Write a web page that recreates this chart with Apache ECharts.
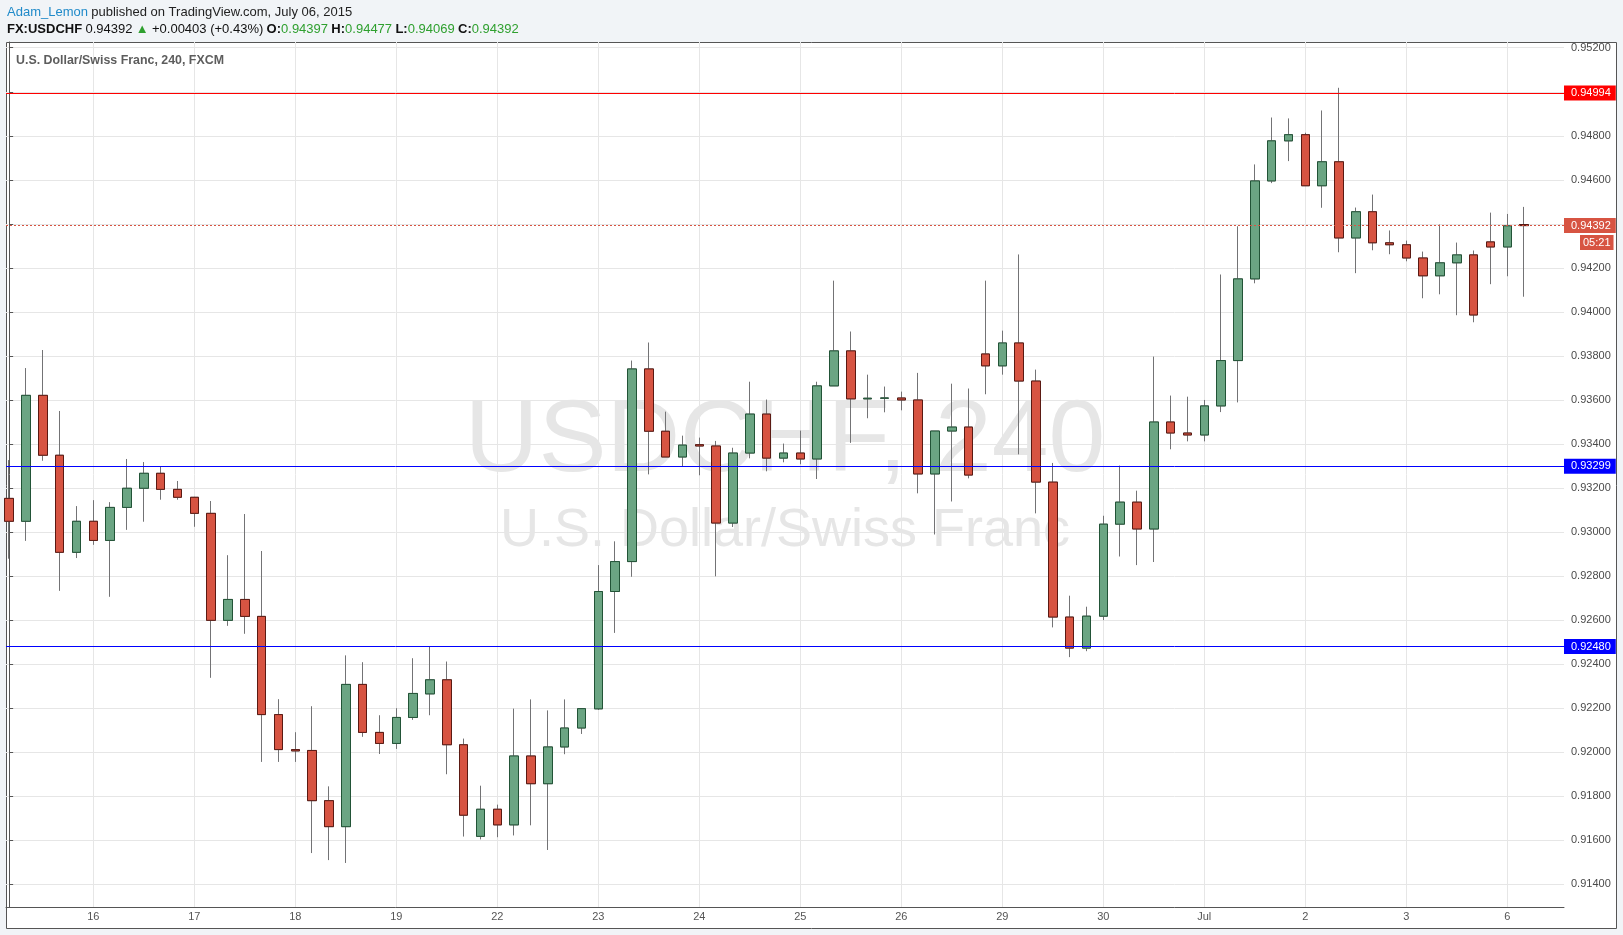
<!DOCTYPE html>
<html><head><meta charset="utf-8">
<script src="https://cdn.jsdelivr.net/npm/echarts@6/dist/echarts.min.js"></script>
<style>html,body{margin:0;padding:0;background:#f1f4f7;}#chart{width:1623px;height:935px;}</style>
</head><body><div id="chart"></div>
<script>
// ---- data (4H bars, FX:USDCHF) ----
const dayLabels = ['16','17','18','19','22','23','24','25','26','29','30','Jul','2','3','6'];
const dayStartBar = [5,11,17,23,29,35,41,47,53,59,65,71,77,83,89];
const opens = [0.93153,0.93049,0.93621,0.93349,0.92908,
 0.93049,0.92962,0.93112,0.93199,0.93267,0.93194,
 0.93158,0.93085,0.92599,0.92694,0.92617,0.92171,
 0.92012,0.92008,0.91780,0.91662,0.92308,0.92090,
 0.92040,0.92158,0.92265,0.92329,0.92034,0.91618,
 0.91741,0.91670,0.91983,0.91857,0.92024,0.92110,
 0.92197,0.92730,0.92866,0.93741,0.93458,0.93341,
 0.93397,0.93391,0.93041,0.93359,0.93536,0.93336,
 0.93359,0.93332,0.93664,0.93823,0.93605,0.93608,
 0.93609,0.93600,0.93264,0.93459,0.93477,0.93809,
 0.93755,0.93859,0.93686,0.93227,0.92614,0.92473,
 0.92618,0.93036,0.93136,0.93014,0.93500,0.93450,
 0.93441,0.93573,0.93779,0.94150,0.94595,0.94777,
 0.94805,0.94573,0.94682,0.94336,0.94455,0.94314,
 0.94305,0.94245,0.94164,0.94223,0.94259,0.94318,
 0.94295,0.94397];
const closes = [0.93049,0.93621,0.93349,0.92908,0.93049,
 0.92962,0.93112,0.93199,0.93267,0.93194,0.93158,
 0.93085,0.92599,0.92694,0.92617,0.92171,0.92012,
 0.92006,0.91780,0.91662,0.92308,0.92090,0.92040,
 0.92158,0.92267,0.92329,0.92034,0.91714,0.91741,
 0.91670,0.91983,0.91857,0.92024,0.92110,0.92198,
 0.92730,0.92866,0.93741,0.93458,0.93341,0.93395,
 0.93391,0.93041,0.93359,0.93536,0.93336,0.93359,
 0.93332,0.93664,0.93823,0.93605,0.93608,0.93609,
 0.93600,0.93264,0.93459,0.93477,0.93259,0.93755,
 0.93859,0.93686,0.93227,0.92614,0.92473,0.92618,
 0.93036,0.93136,0.93014,0.93500,0.93450,0.93441,
 0.93573,0.93779,0.94150,0.94595,0.94777,0.94805,
 0.94573,0.94682,0.94336,0.94455,0.94314,0.94305,
 0.94245,0.94164,0.94223,0.94259,0.93986,0.94295,
 0.94391,0.94392];
const lows = [0.92879,0.92960,0.93324,0.92733,0.92882,
 0.92942,0.92706,0.93010,0.93047,0.93147,0.93147,
 0.93024,0.92338,0.92574,0.92538,0.91956,0.91956,
 0.91956,0.91542,0.91510,0.91497,0.92070,0.91992,
 0.92015,0.92147,0.92168,0.91900,0.91617,0.91604,
 0.91614,0.91622,0.91668,0.91556,0.91991,0.92083,
 0.92192,0.92542,0.92797,0.93262,0.93341,0.93298,
 0.93258,0.92799,0.93023,0.93335,0.93276,0.93317,
 0.93308,0.93241,0.93664,0.93405,0.93517,0.93544,
 0.93553,0.93176,0.92989,0.93139,0.93244,0.93626,
 0.93715,0.93353,0.93085,0.92567,0.92432,0.92459,
 0.92600,0.92889,0.92850,0.92864,0.93376,0.93412,
 0.93412,0.93545,0.93589,0.94130,0.94585,0.94685,
 0.94573,0.94473,0.94271,0.94176,0.94280,0.94262,
 0.94230,0.94062,0.94080,0.93985,0.93953,0.94126,
 0.94162,0.94069];
const highs = [0.93327,0.93745,0.93827,0.93550,0.93118,
 0.93145,0.93136,0.93332,0.93318,0.93300,0.93232,
 0.93160,0.93141,0.92895,0.93082,0.92914,0.92241,
 0.92091,0.92209,0.91845,0.92440,0.92409,0.92168,
 0.92200,0.92427,0.92478,0.92412,0.92062,0.91848,
 0.91762,0.92198,0.92240,0.92190,0.92240,0.92200,
 0.92850,0.92958,0.93779,0.93861,0.93547,0.93438,
 0.93429,0.93414,0.93383,0.93683,0.93602,0.93402,
 0.93461,0.93683,0.94142,0.93911,0.93715,0.93661,
 0.93638,0.93723,0.93459,0.93674,0.93652,0.94142,
 0.93915,0.94261,0.93738,0.93314,0.92711,0.92661,
 0.93074,0.93302,0.93188,0.93797,0.93620,0.93615,
 0.93600,0.94170,0.94389,0.94670,0.94883,0.94879,
 0.94814,0.94915,0.95018,0.94474,0.94533,0.94370,
 0.94324,0.94274,0.94397,0.94315,0.94279,0.94451,
 0.94445,0.94477];
const yTicks = [0.914,0.916,0.918,0.920,0.922,0.924,0.926,0.928,0.930,0.932,0.934,0.936,0.938,0.940,0.942,0.944,0.946,0.948,0.950,0.952];
const redLevel = 0.94994;
const blueLevels = [0.93299, 0.92480];
const countdown = '05:21';
const dailyChange = '+0.00403 (+0.43%)';

// ---- build ----
const N = opens.length;
const last = N - 1;
const wickData = opens.map((o, i) => [i, o, closes[i], lows[i], highs[i]]);
const bodyData = opens.map((o, i) => [i, o, closes[i], Math.min(o, closes[i]), Math.max(o, closes[i])]);
const FONT = '"Liberation Sans", Arial, sans-serif';
const f5 = v => v.toFixed(5);

const labelBase = {show: true, position: 'end', distance: 0, color: '#fff', fontSize: 11, fontFamily: FONT, padding: [2, 5, 1, 7], lineHeight: 12};
const mlData = [
  {yAxis: redLevel, lineStyle: {color: '#ff0000', type: 'solid', width: 1},
   label: Object.assign({}, labelBase, {formatter: f5(redLevel), backgroundColor: '#ff0000'})},
  ...blueLevels.map(v => ({yAxis: v, lineStyle: {color: '#0000ff', type: 'solid', width: 1},
   label: Object.assign({}, labelBase, {formatter: f5(v), backgroundColor: '#0000ff'})})),
  {yAxis: closes[last], lineStyle: {color: '#d75442', type: [2, 2], width: 1},
   label: Object.assign({}, labelBase, {formatter: f5(closes[last]), backgroundColor: '#d75442'})},
  {yAxis: closes[last], lineStyle: {color: 'rgba(0,0,0,0)', width: 0},
   label: Object.assign({}, labelBase, {formatter: countdown, backgroundColor: '#d75442', padding: [2, 3, 1, 3], offset: [16, 17]})}
];

const chart = echarts.init(document.getElementById('chart'), null, {renderer: 'canvas'});
chart.setOption({
  animation: false,
  backgroundColor: '#f1f4f7',
  grid: {left: 6, right: 59, top: 42, bottom: 28, show: false},
  xAxis: {
    type: 'value', min: -0.187, max: 92.37,
    axisLine: {show: true, onZero: false, lineStyle: {color: '#555', width: 1}},
    axisTick: {show: false, customValues: dayStartBar},
    axisLabel: {customValues: dayStartBar, color: '#555', fontSize: 11, fontFamily: FONT, margin: 4,
      formatter: v => dayLabels[dayStartBar.indexOf(Math.round(v))] || ''},
    splitLine: {show: true, lineStyle: {color: '#e6e6e6', width: 1}}
  },
  yAxis: {
    type: 'value', position: 'right', min: 0.91297, max: 0.95226,
    axisLine: {show: true, lineStyle: {color: '#555', width: 1}},
    axisTick: {show: true, inside: false, length: 4, customValues: yTicks, lineStyle: {color: '#555'}},
    axisLabel: {customValues: yTicks, color: '#4a4a4a', fontSize: 11, fontFamily: FONT, margin: 7, formatter: v => f5(v)},
    splitLine: {show: true, lineStyle: {color: '#e6e6e6', width: 1}}
  },
  graphic: [
    {type: 'rect', z: -20, silent: true, shape: {x: 6.5, y: 42.5, width: 1610, height: 886},
     style: {fill: '#ffffff', stroke: '#555555', lineWidth: 1}},
    {type: 'text', z: -10, silent: true, x: 785, y: 443,
     style: {text: 'USDCHF, 240', font: '102px ' + FONT, fill: '#e6e6e6', align: 'center', verticalAlign: 'middle'}},
    {type: 'text', z: -10, silent: true, x: 785, y: 531,
     style: {text: 'U.S. Dollar/Swiss Franc', font: '54px ' + FONT, fill: '#e6e6e6', align: 'center', verticalAlign: 'middle'}},
    {type: 'text', z: 50, silent: true, x: 16, y: 61,
     style: {text: 'U.S. Dollar/Swiss Franc, 240, FXCM', font: 'bold 12.4px ' + FONT, fill: '#5d5d5d', align: 'left', verticalAlign: 'middle'}},
    {type: 'text', z: 50, silent: true, x: 7, y: 12,
     style: {text: '{a|Adam_Lemon} {b|published on TradingView.com, July 06, 2015}', align: 'left', verticalAlign: 'middle',
       rich: {a: {fill: '#1f8ac9', font: '13px ' + FONT}, b: {fill: '#222222', font: '13px ' + FONT}}}},
    {type: 'text', z: 50, silent: true, x: 7, y: 29,
     style: {text: '{k|FX:USDCHF} {n|' + f5(closes[last]) + '} {g|\u25B2} {n|' + dailyChange + '} {k|O:}{g|' + f5(opens[last]) + '} {k|H:}{g|' + f5(highs[last]) + '} {k|L:}{g|' + f5(lows[last]) + '} {k|C:}{g|' + f5(closes[last]) + '}',
       align: 'left', verticalAlign: 'middle',
       rich: {k: {fill: '#111111', font: 'bold 13px ' + FONT}, n: {fill: '#111111', font: '13px ' + FONT}, g: {fill: '#2fa02f', font: '13px ' + FONT}}}}
  ],
  series: [
    {type: 'candlestick', name: 'wick', data: wickData, barWidth: 9, silent: true, z: 2,
     itemStyle: {color: '#737375', color0: '#737375', borderColor: '#737375', borderColor0: '#737375', borderWidth: 1}},
    {type: 'candlestick', name: 'USDCHF', data: bodyData, barWidth: 9, silent: true, z: 3,
     itemStyle: {color: '#6ba583', color0: '#d75442', borderColor: '#225437', borderColor0: '#5b1a13', borderWidth: 1}},
    {type: 'line', name: 'levels', data: [], silent: true, z: 4, clip: false,
     markLine: {silent: true, precision: 5, symbol: ['none', 'none'], animation: false, data: mlData}}
  ]
});
</script></body></html>
